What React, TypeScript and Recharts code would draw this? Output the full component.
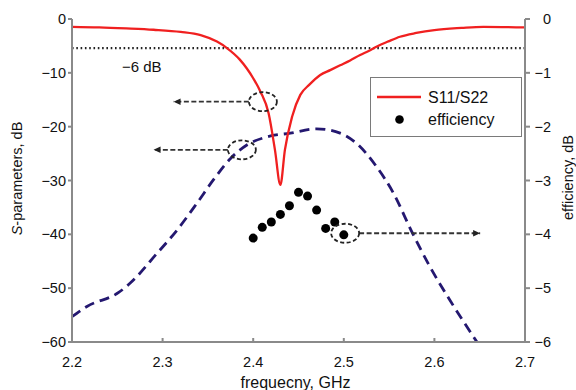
import React from 'react';
import { ComposedChart, Line, Scatter, XAxis, YAxis, ReferenceLine, ReferenceDot, Legend } from 'recharts';

const FONT = '"Liberation Sans", Arial, Helvetica, sans-serif';
const TEXT = '#111';
const AXIS = '#8a8a8a';

const xTicks = [2.2, 2.3, 2.4, 2.5, 2.6, 2.7];
const leftTicks = [-60, -50, -40, -30, -20, -10, 0];
const rightTicks = [-6, -5, -4, -3, -2, -1, 0];

// S11/S22 (red, left axis, dB)
const s11Freq = [2.2, 2.23, 2.26, 2.29, 2.32, 2.342, 2.36, 2.371, 2.385, 2.393, 2.4, 2.408, 2.417, 2.424, 2.43, 2.435, 2.443, 2.452, 2.462, 2.474, 2.485, 2.496, 2.507, 2.518, 2.528, 2.536, 2.55, 2.562, 2.58, 2.6, 2.63, 2.654, 2.7];
const s11Db = [-1.45, -1.55, -1.75, -2.0, -2.4, -3.0, -4.2, -5.4, -7.5, -9.2, -11, -13.5, -17.5, -24.3, -30.8, -24.3, -18.1, -14.1, -12.2, -10.4, -9.5, -8.6, -7.7, -6.7, -5.9, -5.15, -4.1, -3.3, -2.6, -2.05, -1.65, -1.45, -1.55];

// dashed navy curve (left axis, dB)
const curveFreq = [2.2, 2.2165, 2.2515, 2.264, 2.294, 2.316, 2.338, 2.356, 2.375, 2.393, 2.415, 2.441, 2.47, 2.496, 2.514, 2.536, 2.555, 2.575, 2.595, 2.617, 2.647];
const curveDb = [-55.3, -53.4, -50.8, -49.1, -43.5, -39.2, -34.2, -29.9, -25.9, -23.4, -21.9, -21.2, -20.4, -21.2, -23.1, -27.4, -32.4, -39.5, -46.0, -52.2, -60];

// efficiency (dots, right axis, dB)
const effFreq = [2.4, 2.41, 2.42, 2.43, 2.44, 2.45, 2.46, 2.47, 2.48, 2.49, 2.5];
const effDb = [-4.07, -3.87, -3.77, -3.63, -3.47, -3.22, -3.29, -3.55, -3.89, -3.77, -4.01];

const sixDbLevel = -5.4;

// annotation ellipses with arrows pointing to the relevant axis
const annotations = [
  { cx: 2.4107, cy: -15.36, axis: 'left', from: 2.3952, to: 2.3121 },
  { cx: 2.3875, cy: -24.3, axis: 'left', from: 2.372, to: 2.29 },
  { cx: 2.5015, cy: -3.98, axis: 'right', from: 2.5169, to: 2.6505 },
];

const s11Data = s11Freq.map((f, i) => ({ f, v: s11Db[i] }));
const curveData = curveFreq.map((f, i) => ({ f, v: curveDb[i] }));
const effData = effFreq.map((f, i) => ({ f, e: effDb[i] }));

const fmt = (v: number) => (v < 0 ? '\u2212' + Math.abs(v) : String(v));

const LeftTick = (p: any) => (
  <text x={p.x} y={p.y} textAnchor="end" dominantBaseline="central" fontSize={14.5} fill={TEXT} fontFamily={FONT}>
    {fmt(p.payload.value)}
  </text>
);
const RightTick = (p: any) => (
  <text x={p.x} y={p.y} textAnchor="end" dominantBaseline="central" fontSize={14.5} fill={TEXT} fontFamily={FONT}>
    {fmt(p.payload.value)}
  </text>
);
const BottomTick = (p: any) => (
  <text x={p.x} y={p.y} textAnchor="middle" dominantBaseline="central" fontSize={14.5} fill={TEXT} fontFamily={FONT}>
    {Number(p.payload.value).toFixed(1)}
  </text>
);

const Dot = (p: any) => <circle cx={p.cx} cy={p.cy} r={4.5} fill="#000" />;

const Ellipse = (p: any) => (
  <ellipse cx={p.cx} cy={p.cy} rx={14} ry={9.5} fill="none" stroke="#222" strokeWidth={1.8} strokeDasharray="4 2.5" />
);
const HeadLeft = (p: any) => (
  <path d={`M${p.cx},${p.cy} l7,-3.2 l0,6.4 z`} fill="#222" />
);
const HeadRight = (p: any) => (
  <path d={`M${p.cx},${p.cy} l-7,-3.2 l0,6.4 z`} fill="#222" />
);

const LegendBox = () => (
  <div style={{ width: 152, height: 60, border: '1.5px solid #7a7a7a', boxSizing: 'border-box', background: '#fff' }}>
    <svg width={149} height={57} style={{ display: 'block' }}>
      <line x1={6} y1={19} x2={50} y2={19} stroke="#f02020" strokeWidth={2.4} />
      <text x={57} y={19} dominantBaseline="central" fontSize={16} fill={TEXT} fontFamily={FONT}>S11/S22</text>
      <circle cx={28.5} cy={41.5} r={4.3} fill="#000" />
      <text x={57} y={41.5} dominantBaseline="central" fontSize={16} fill={TEXT} fontFamily={FONT}>efficiency</text>
    </svg>
  </div>
);

export default function App() {
  return (
    <div style={{ position: 'fixed', left: 0, top: 0, width: 576, height: 390, background: '#fff' }}>
      <ComposedChart width={576} height={390} margin={{ top: 19, right: 0, left: 0, bottom: 0 }}>
        <XAxis
          dataKey="f"
          type="number"
          domain={[2.2, 2.7]}
          ticks={xTicks}
          allowDataOverflow
          stroke={AXIS}
          strokeWidth={2}
          tickSize={-4}
          tickMargin={24}
          height={48}
          tick={<BottomTick />}
          label={{
            content: (props: any) => {
              const vb = props.viewBox;
              return (
                <text x={vb.x + vb.width / 2 - 3} y={vb.y + 40} textAnchor="middle" dominantBaseline="central" fontSize={16} fill={TEXT} fontFamily={FONT}>
                  frequecny, GHz
                </text>
              );
            },
          }}
        />
        <YAxis
          yAxisId="left"
          orientation="left"
          type="number"
          domain={[-60, 0]}
          ticks={leftTicks}
          allowDataOverflow
          width={72}
          stroke={AXIS}
          strokeWidth={2}
          tickSize={4}
          tickMargin={2}
          tick={<LeftTick />}
          label={{
            content: (props: any) => {
              const vb = props.viewBox;
              const cx = vb.x + 17;
              const cy = vb.y + vb.height / 2 - 2;
              return (
                <text x={cx} y={cy} transform={`rotate(-90 ${cx} ${cy})`} textAnchor="middle" dominantBaseline="central" fontSize={14.5} fill={TEXT} fontFamily={FONT}>
                  <tspan fontStyle="italic">S</tspan>-parameters, dB
                </text>
              );
            },
          }}
        />
        <YAxis
          yAxisId="right"
          orientation="right"
          type="number"
          domain={[-6, 0]}
          ticks={rightTicks}
          allowDataOverflow
          width={51}
          stroke={AXIS}
          strokeWidth={2}
          tickSize={5}
          tickMargin={21}
          tick={<RightTick />}
          label={{
            content: (props: any) => {
              const vb = props.viewBox;
              const cx = vb.x + 43;
              const cy = vb.y + vb.height / 2 - 3;
              return (
                <text x={cx} y={cy} transform={`rotate(-90 ${cx} ${cy})`} textAnchor="middle" dominantBaseline="central" fontSize={14.5} fill={TEXT} fontFamily={FONT}>
                  efficiency, dB
                </text>
              );
            },
          }}
        />
        <ReferenceLine
          yAxisId="left"
          y={sixDbLevel}
          stroke="#222"
          strokeWidth={2.2}
          strokeDasharray="1.6 2.7"
          label={{
            content: (props: any) => {
              const vb = props.viewBox;
              return (
                <text x={vb.x + 50} y={vb.y + 18} dominantBaseline="central" fontSize={15} fill={TEXT} fontFamily={FONT}>
                  {'\u2212'}6 dB
                </text>
              );
            },
          }}
        />
        <Line
          data={curveData}
          dataKey="v"
          yAxisId="left"
          type="monotone"
          stroke="#241870"
          strokeWidth={2.8}
          strokeDasharray="10 6"
          dot={false}
          activeDot={false}
          isAnimationActive={false}
          legendType="none"
        />
        <Line
          data={s11Data}
          dataKey="v"
          yAxisId="left"
          type="monotone"
          stroke="#f02020"
          strokeWidth={2.3}
          dot={false}
          activeDot={false}
          isAnimationActive={false}
          name="S11/S22"
        />
        <Scatter data={effData} dataKey="e" yAxisId="right" fill="#000" shape={<Dot />} isAnimationActive={false} name="efficiency" />
        {annotations.map((a, i) => (
          <ReferenceLine
            key={'l' + i}
            yAxisId={a.axis}
            segment={[{ x: a.from, y: a.cy }, { x: a.to, y: a.cy }]}
            stroke="#333"
            strokeWidth={1.8}
            strokeDasharray="5 2.5"
          />
        ))}
        {annotations.map((a, i) => (
          <ReferenceDot key={'e' + i} yAxisId={a.axis} x={a.cx} y={a.cy} shape={<Ellipse />} />
        ))}
        {annotations.map((a, i) => (
          <ReferenceDot key={'h' + i} yAxisId={a.axis} x={a.to} y={a.cy} shape={a.to < a.from ? <HeadLeft /> : <HeadRight />} />
        ))}
        <Legend
          layout="vertical"
          align="center"
          verticalAlign="middle"
          content={<LegendBox />}
          wrapperStyle={{ position: 'absolute', left: 370, top: 77, width: 152, height: 60 }}
        />
      </ComposedChart>
    </div>
  );
}
